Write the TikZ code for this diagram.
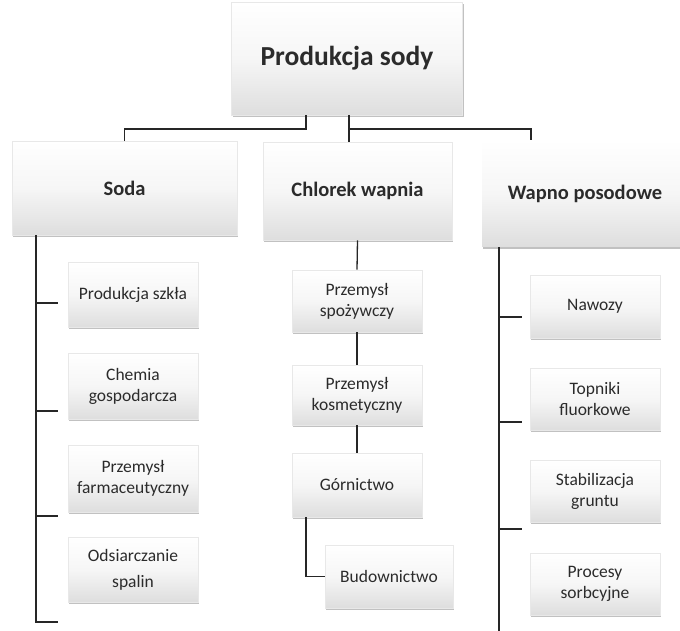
\documentclass[tikz,border=0pt]{standalone}
\usepackage{fontspec}
\setmainfont{Carlito}
\usetikzlibrary{shadows}
\definecolor{txt}{HTML}{2B2B2B}
\tikzset{
  box/.style={rectangle, draw=gray!18, line width=0.6pt,
    top color=white, bottom color=gray!26, middle color=gray!7,
    drop shadow={shadow xshift=1.2pt, shadow yshift=-2.4pt, fill=gray!80, opacity=0.6},
    text=txt, align=center, inner sep=2pt},
  topbox/.style={box, font=\fontsize{27.5}{32}\selectfont\bfseries},
  midbox/.style={box, font=\fontsize{20.5}{24}\selectfont\bfseries},
  leafbox/.style={box, font=\fontsize{17.5}{21}\selectfont, minimum width=130pt},
  conn/.style={line width=1.3pt, draw=black!85}
}
\begin{document}
\begin{tikzpicture}[x=1pt, y=-1pt]
\useasboundingbox[fill=white] (0,0) rectangle (680,631);
\begin{scope}
\clip (0,0) rectangle (680,631);
% top
\node[topbox, minimum width=231pt, minimum height=113pt] (top) at (347,58.5) {Produkcja sody};
% level 1
\node[midbox, minimum width=225pt, minimum height=94pt] (soda) at (124.5,188) {Soda};
\node[midbox, minimum width=189pt, minimum height=98pt] (chl) at (357.5,191) {Chlorek wapnia};
\node[midbox, minimum width=206pt, minimum height=107pt, draw=none] (wap) at (585,193.5) {Wapno posodowe};
% soda children
\node[leafbox, minimum height=65pt] (ps) at (133,294.5) {Produkcja szkła};
\node[leafbox, minimum height=66pt] (ch) at (133,386) {Chemia\\gospodarcza};
\node[leafbox, minimum height=67pt] (pf) at (133,478.5) {Przemysł\\farmaceutyczny};
\node[leafbox, minimum height=65pt, font=\fontsize{17.5}{26}\selectfont] (os) at (133,569.5) {Odsiarczanie\\spalin};
% chlorek children
\node[leafbox, minimum height=62pt] (sp) at (357,301) {Przemysł\\spożywczy};
\node[leafbox, minimum height=60pt] (km) at (357,395) {Przemysł\\kosmetyczny};
\node[leafbox, minimum height=64pt] (gr) at (357,485) {Górnictwo};
\node[leafbox, minimum width=128pt, minimum height=63pt] (bu) at (389,576.5) {Budownictwo};
% wapno children
\node[leafbox, minimum height=63pt] (na) at (595,306.5) {Nawozy};
\node[leafbox, minimum height=62pt] (to) at (595,399) {Topniki\\fluorkowe};
\node[leafbox, minimum height=62pt] (st) at (595,491) {Stabilizacja\\gruntu};
\node[leafbox, minimum height=62pt] (pr) at (595,584) {Procesy\\sorbcyjne};

% coordinates
\coordinate (xa) at (306,0);
\coordinate (xb) at (349,0);
\coordinate (hy) at (0,129);
\coordinate (xw) at (531,0);
\coordinate (sx) at (36,0);
\coordinate (wx) at (499,0);
\coordinate (s1) at (58,303);
\coordinate (s2) at (58,411);
\coordinate (s3) at (58,516);
\coordinate (s4) at (58,622);
\coordinate (w1) at (522,317);
\coordinate (w2) at (522,422);
\coordinate (w3) at (522,529);
\coordinate (wend) at (499,631);
\coordinate (gx) at (306,0);

% top connectors
\draw[conn] (top.south -| xa) -- (xa |- hy) -| (soda.north);
\draw[conn] (top.south -| xb) -- (chl.north -| xb);
\draw[conn] (xb |- hy) -| (wap.north -| xw);
% soda
\draw[conn] (soda.south -| sx) -- (sx |- s4) -- (s4);
\draw[conn] (sx |- s1) -- (s1);
\draw[conn] (sx |- s2) -- (s2);
\draw[conn] (sx |- s3) -- (s3);
% chlorek
\draw[conn] (chl.south) -- (sp.north);
\draw[conn] (sp.south) -- (km.north);
\draw[conn] (km.south) -- (gr.north);
\draw[conn] (gr.south -| gx) |- (bu.west);
% wapno
\draw[conn] (wap.south -| wx) -- (wend);
\draw[conn] (wx |- w1) -- (w1);
\draw[conn] (wx |- w2) -- (w2);
\draw[conn] (wx |- w3) -- (w3);
\end{scope}
\end{tikzpicture}
\end{document}
